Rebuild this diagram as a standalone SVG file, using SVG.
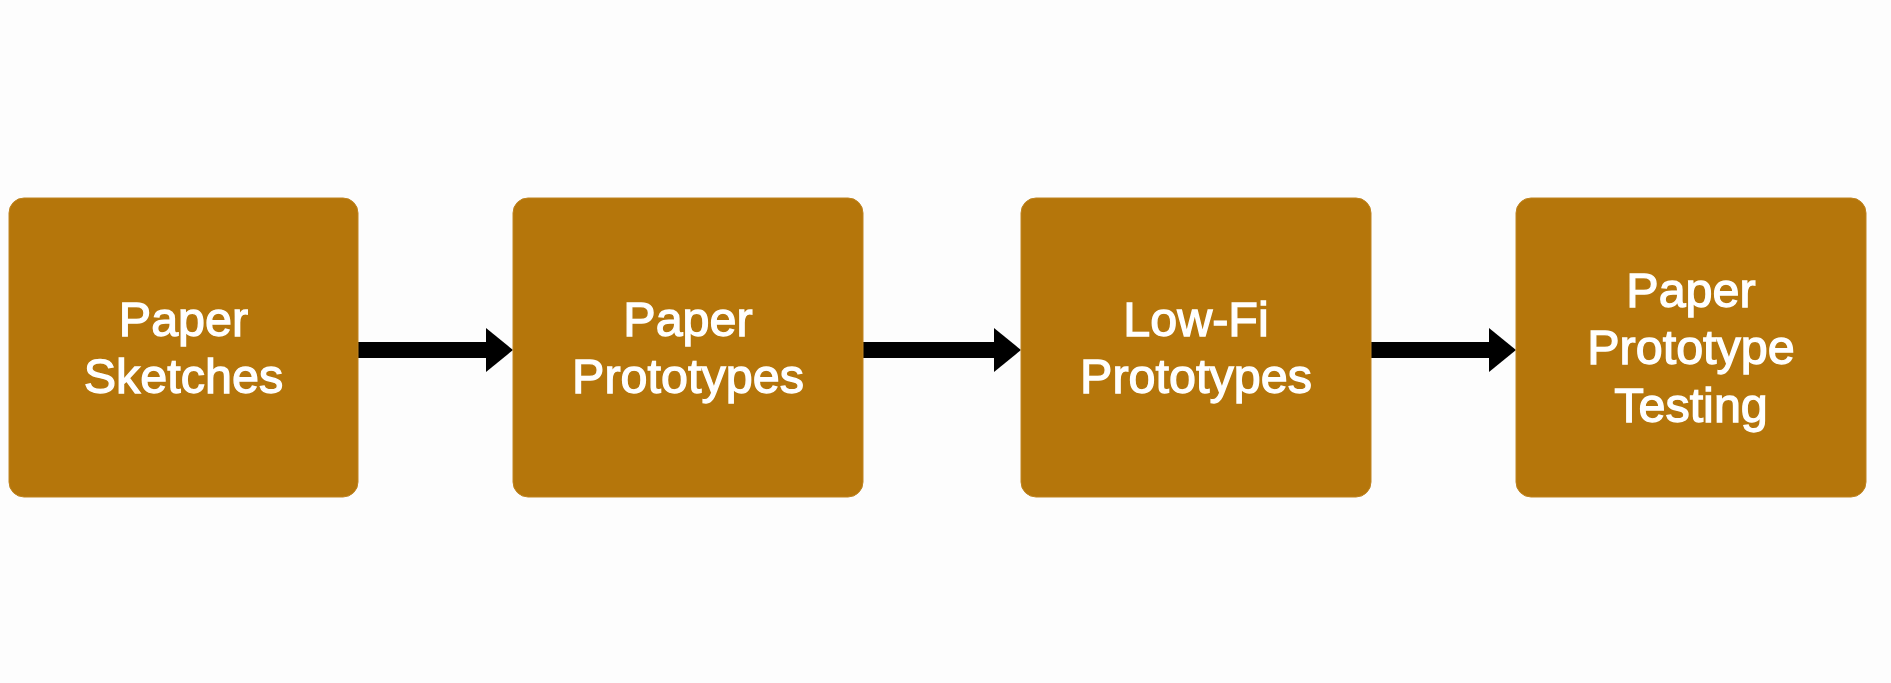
<svg xmlns="http://www.w3.org/2000/svg" width="1891" height="683" viewBox="0 0 1891 683">
<style>
.box{fill:#B5760B;stroke:#C08420;stroke-width:1}
.lbl{font-family:"Liberation Sans",Arial,Helvetica,sans-serif;font-size:48.5px;fill:#FFFFFF;stroke:#FFFFFF;stroke-width:1.3px;text-anchor:middle}
.shaft{stroke:#000000;stroke-width:16;fill:none}
.head{fill:#000000}
</style>
<rect width="1891" height="683" fill="#FDFDFD"/>
<g id="connectors">
<line class="shaft" x1="358" y1="350" x2="488" y2="350"/>
<polygon class="head" points="486,328 513,350 486,372"/>
<line class="shaft" x1="863" y1="350" x2="996" y2="350"/>
<polygon class="head" points="994,328 1021,350 994,372"/>
<line class="shaft" x1="1371" y1="350" x2="1491" y2="350"/>
<polygon class="head" points="1489,328 1516,350 1489,372"/>
</g>
<g id="node1">
<rect class="box" x="9" y="198" width="349" height="299" rx="15"/>
<text class="lbl" x="183.5" y="335.7">Paper</text>
<text class="lbl" x="183.5" y="393.3">Sketches</text>
</g>
<g id="node2">
<rect class="box" x="513" y="198" width="350" height="299" rx="15"/>
<text class="lbl" x="688" y="335.7">Paper</text>
<text class="lbl" x="688" y="393.3">Prototypes</text>
</g>
<g id="node3">
<rect class="box" x="1021" y="198" width="350" height="299" rx="15"/>
<text class="lbl" x="1196" y="335.7">Low-Fi</text>
<text class="lbl" x="1196" y="393.3">Prototypes</text>
</g>
<g id="node4">
<rect class="box" x="1516" y="198" width="350" height="299" rx="15"/>
<text class="lbl" x="1691" y="306.7">Paper</text>
<text class="lbl" x="1691" y="364.3">Prototype</text>
<text class="lbl" x="1691" y="421.7">Testing</text>
</g>
</svg>
